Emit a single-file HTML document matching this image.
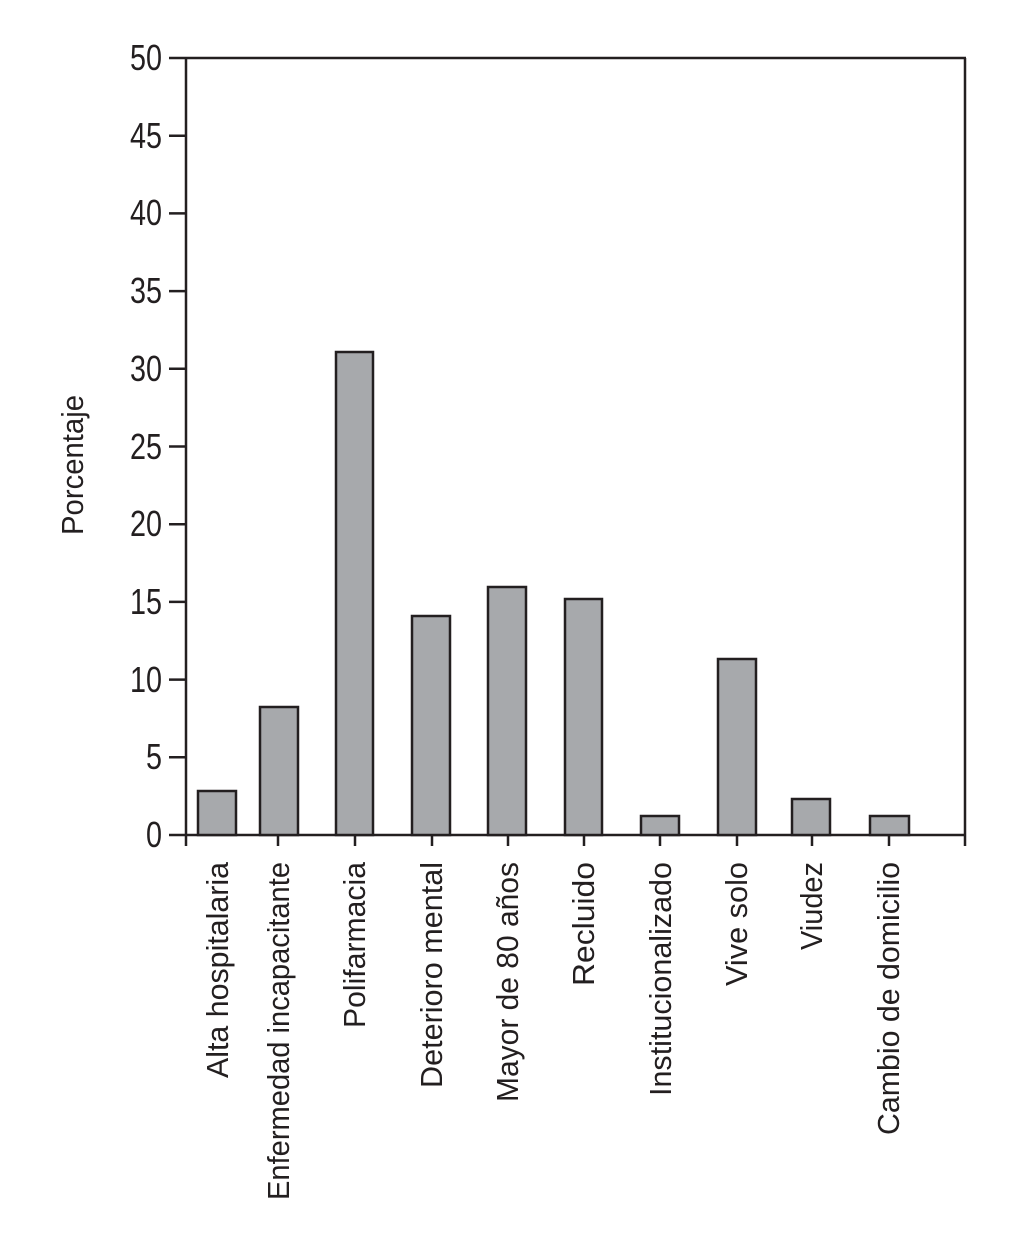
<!DOCTYPE html>
<html><head><meta charset="utf-8"><style>
html,body{margin:0;padding:0;background:#fff}
svg text{font-family:"Liberation Sans Narrow","Liberation Sans",sans-serif;fill:#231f20}
</style></head><body>
<svg width="1024" height="1249" viewBox="0 0 1024 1249" xmlns="http://www.w3.org/2000/svg">
<g stroke="#231f20" stroke-width="2.5" fill="none">
<line x1="169" y1="58" x2="966" y2="58"/>
<line x1="186" y1="58" x2="186" y2="846"/>
<line x1="965" y1="58" x2="965" y2="846"/>
<line x1="169" y1="835" x2="966" y2="835"/>
<line x1="169" y1="135.7" x2="186" y2="135.7"/>
<line x1="169" y1="213.4" x2="186" y2="213.4"/>
<line x1="169" y1="291.1" x2="186" y2="291.1"/>
<line x1="169" y1="368.8" x2="186" y2="368.8"/>
<line x1="169" y1="446.5" x2="186" y2="446.5"/>
<line x1="169" y1="524.2" x2="186" y2="524.2"/>
<line x1="169" y1="601.9" x2="186" y2="601.9"/>
<line x1="169" y1="679.6" x2="186" y2="679.6"/>
<line x1="169" y1="757.3" x2="186" y2="757.3"/>
<line x1="278" y1="835" x2="278" y2="846"/>
<line x1="355" y1="835" x2="355" y2="846"/>
<line x1="432" y1="835" x2="432" y2="846"/>
<line x1="508" y1="835" x2="508" y2="846"/>
<line x1="584" y1="835" x2="584" y2="846"/>
<line x1="660" y1="835" x2="660" y2="846"/>
<line x1="737" y1="835" x2="737" y2="846"/>
<line x1="812" y1="835" x2="812" y2="846"/>
<line x1="889" y1="835" x2="889" y2="846"/>
</g>
<g fill="#a7a9ac" stroke="#231f20" stroke-width="2.5">
<rect x="198" y="791" width="38" height="44"/>
<rect x="260" y="707" width="38" height="128"/>
<rect x="336" y="352" width="37" height="483"/>
<rect x="412" y="616" width="38" height="219"/>
<rect x="488" y="587" width="38" height="248"/>
<rect x="565" y="599" width="37" height="236"/>
<rect x="641" y="816" width="38" height="19"/>
<rect x="718" y="659" width="38" height="176"/>
<rect x="792" y="799" width="38" height="36"/>
<rect x="870" y="816" width="39" height="19"/>
</g>
<g font-size="36" text-anchor="end" lengthAdjust="spacingAndGlyphs">
<text x="162" y="70" textLength="32" lengthAdjust="spacingAndGlyphs">50</text>
<text x="162" y="148" textLength="32" lengthAdjust="spacingAndGlyphs">45</text>
<text x="162" y="225" textLength="32" lengthAdjust="spacingAndGlyphs">40</text>
<text x="162" y="303" textLength="32" lengthAdjust="spacingAndGlyphs">35</text>
<text x="162" y="381" textLength="32" lengthAdjust="spacingAndGlyphs">30</text>
<text x="162" y="459" textLength="32" lengthAdjust="spacingAndGlyphs">25</text>
<text x="162" y="536" textLength="32" lengthAdjust="spacingAndGlyphs">20</text>
<text x="162" y="614" textLength="32" lengthAdjust="spacingAndGlyphs">15</text>
<text x="162" y="692" textLength="32" lengthAdjust="spacingAndGlyphs">10</text>
<text x="162" y="769" textLength="16" lengthAdjust="spacingAndGlyphs">5</text>
<text x="162" y="847" textLength="16" lengthAdjust="spacingAndGlyphs">0</text>
</g>
<text font-size="31" text-anchor="middle" transform="translate(83,465) rotate(-90)" textLength="140" lengthAdjust="spacingAndGlyphs">Porcentaje</text>
<g font-size="31" text-anchor="end">
<text transform="translate(228,862) rotate(-90)" textLength="216" lengthAdjust="spacingAndGlyphs">Alta hospitalaria</text>
<text transform="translate(289,862) rotate(-90)" textLength="338" lengthAdjust="spacingAndGlyphs">Enfermedad incapacitante</text>
<text transform="translate(365,862) rotate(-90)" textLength="166" lengthAdjust="spacingAndGlyphs">Polifarmacia</text>
<text transform="translate(442,862) rotate(-90)" textLength="226" lengthAdjust="spacingAndGlyphs">Deterioro mental</text>
<text transform="translate(518,862) rotate(-90)" textLength="240" lengthAdjust="spacingAndGlyphs">Mayor de 80 años</text>
<text transform="translate(594,862) rotate(-90)" textLength="124" lengthAdjust="spacingAndGlyphs">Recluido</text>
<text transform="translate(671,862) rotate(-90)" textLength="234" lengthAdjust="spacingAndGlyphs">Institucionalizado</text>
<text transform="translate(747,862) rotate(-90)" textLength="124" lengthAdjust="spacingAndGlyphs">Vive solo</text>
<text transform="translate(822,862) rotate(-90)" textLength="88" lengthAdjust="spacingAndGlyphs">Viudez</text>
<text transform="translate(899,862) rotate(-90)" textLength="273" lengthAdjust="spacingAndGlyphs">Cambio de domicilio</text>
</g>
</svg>
</body></html>
